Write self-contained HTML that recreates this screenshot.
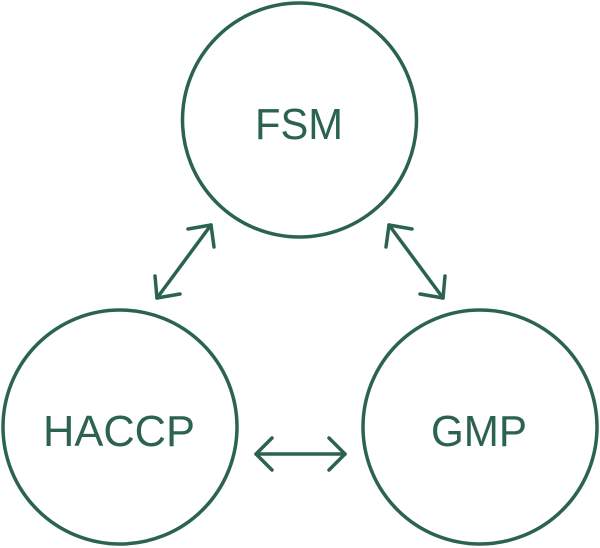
<!DOCTYPE html>
<html><head><style>html,body{margin:0;padding:0;background:#fff;}svg{display:block}</style></head>
<body>
<svg width="600" height="548" viewBox="0 0 600 548" xmlns="http://www.w3.org/2000/svg">
<g fill="none" stroke="#2b6350" stroke-width="3.5" stroke-linecap="round" stroke-linejoin="round">
<circle cx="299.5" cy="120" r="117"/>
<circle cx="120" cy="427" r="117"/>
<circle cx="480" cy="427" r="117"/>
<line x1="211" y1="225" x2="157" y2="298"/>
<polyline points="188,229 211,225 214,247"/>
<polyline points="155,276 157,298 180,294"/>
<line x1="389" y1="225" x2="443" y2="298"/>
<polyline points="412,229 389,225 386,247"/>
<polyline points="445,276 443,298 420,294"/>
<line x1="256" y1="454" x2="345" y2="454"/>
<polyline points="272,438 256,454 272,470"/>
<polyline points="329,438 345,454 329,470"/>
</g>
<g fill="#2b6350" font-family="Liberation Sans, sans-serif" font-size="44" text-anchor="middle">
<text x="299" y="139" textLength="88" lengthAdjust="spacingAndGlyphs">FSM</text>
<text x="119" y="446" textLength="152" lengthAdjust="spacingAndGlyphs">HACCP</text>
<text x="479" y="446" textLength="96" lengthAdjust="spacingAndGlyphs">GMP</text>
</g>
</svg>
</body></html>
